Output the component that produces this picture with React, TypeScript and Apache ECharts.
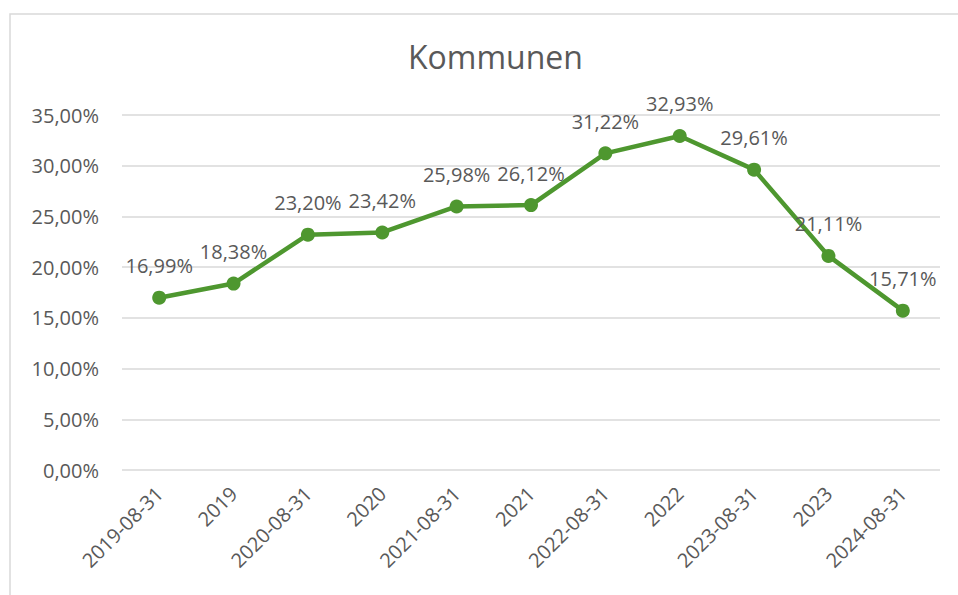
import React, { useEffect, useRef } from "react";
import * as echarts from "echarts";

const categories = [
  "2019-08-31", "2019", "2020-08-31", "2020", "2021-08-31", "2021",
  "2022-08-31", "2022", "2023-08-31", "2023", "2024-08-31",
];
const values = [16.99, 18.38, 23.2, 23.42, 25.98, 26.12, 31.22, 32.93, 29.61, 21.11, 15.71];
const title = "Kommunen";

const fmt = (v: number) => v.toFixed(2).replace(".", ",") + "%";
const FONT = "Open Sans";
const TXT = "#595959";

export default function App() {
  const ref = useRef<HTMLDivElement>(null);
  useEffect(() => {
    document.body.style.margin = "0";
    const chart = echarts.init(ref.current!, null, { renderer: "svg" });
    chart.setOption({
      animation: false,
      backgroundColor: "#ffffff",
      title: {
        text: title,
        left: 403,
        top: 35,
        textStyle: { fontFamily: FONT, fontSize: 32, fontWeight: "normal", color: TXT },
      },
      graphic: [
        {
          type: "rect",
          shape: { x: 10, y: 14, width: 960, height: 600 },
          style: { fill: "none", stroke: "#d9d9d9", lineWidth: 1.5 },
          silent: true,
        },
      ],
      grid: { left: 122, right: 18, top: 115, bottom: 125, containLabel: false },
      xAxis: {
        type: "category",
        data: categories,
        boundaryGap: true,
        axisLine: { show: false },
        axisTick: { show: false },
        axisLabel: {
          rotate: 45,
          interval: 0,
          margin: 20,
          fontFamily: FONT,
          fontSize: 20,
          color: TXT,
        },
      },
      yAxis: {
        type: "value",
        min: 0,
        max: 35,
        interval: 5,
        axisLine: { show: false },
        axisTick: { show: false },
        splitLine: { lineStyle: { color: "#d9d9d9", width: 1.5 } },
        axisLabel: {
          formatter: (v: number) => fmt(v),
          margin: 23,
          fontFamily: FONT,
          fontSize: 20,
          color: TXT,
        },
      },
      series: [
        {
          type: "line",
          data: values,
          symbol: "circle",
          symbolSize: 14,
          lineStyle: { color: "#4E972F", width: 4.5 },
          itemStyle: { color: "#4E972F" },
          label: {
            show: true,
            position: "top",
            distance: 15,
            formatter: (p: any) => fmt(p.value),
            fontFamily: FONT,
            fontSize: 20,
            color: TXT,
          },
        },
      ],
    });
    return () => chart.dispose();
  }, []);
  return <div ref={ref} style={{ width: 958, height: 595 }} />;
}
